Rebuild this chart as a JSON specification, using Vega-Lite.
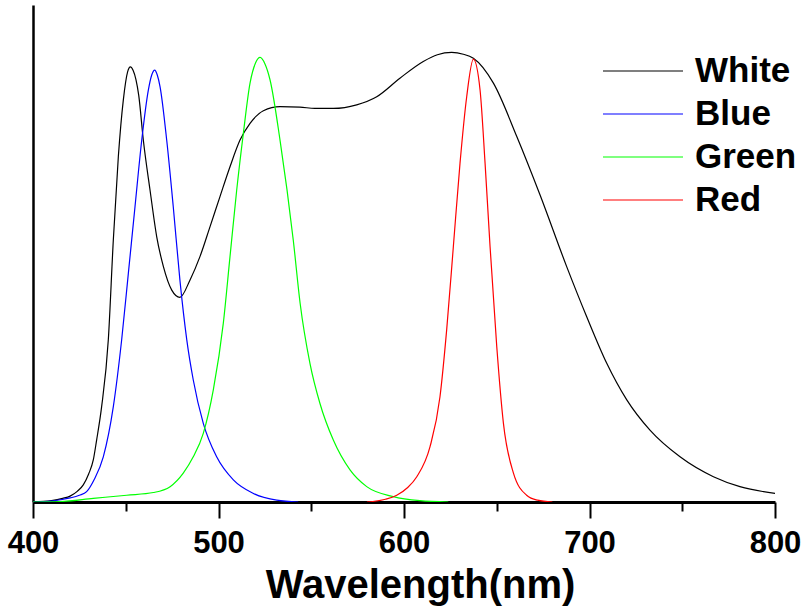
{
  "$schema": "https://vega.github.io/schema/vega-lite/v6.json",
  "width": 742,
  "height": 497,
  "autosize": {"type": "none"},
  "padding": {"left": 33, "top": 5, "right": 32, "bottom": 105},
  "background": "white",
  "config": {"view": {"stroke": null}},
  "datasets": {
    "spectra": [
      {"series": "White", "wl": 400, "y": 0.0},
      {"series": "White", "wl": 410, "y": 0.003},
      {"series": "White", "wl": 416, "y": 0.008},
      {"series": "White", "wl": 420, "y": 0.013},
      {"series": "White", "wl": 424, "y": 0.024},
      {"series": "White", "wl": 427.1, "y": 0.038},
      {"series": "White", "wl": 430, "y": 0.062},
      {"series": "White", "wl": 432.5, "y": 0.093},
      {"series": "White", "wl": 434.3, "y": 0.137},
      {"series": "White", "wl": 437, "y": 0.211},
      {"series": "White", "wl": 440.6, "y": 0.359},
      {"series": "White", "wl": 443.3, "y": 0.58},
      {"series": "White", "wl": 446, "y": 0.764},
      {"series": "White", "wl": 448.7, "y": 0.89},
      {"series": "White", "wl": 451, "y": 0.952},
      {"series": "White", "wl": 452.5, "y": 0.963},
      {"series": "White", "wl": 454, "y": 0.955},
      {"series": "White", "wl": 455.5, "y": 0.935},
      {"series": "White", "wl": 457, "y": 0.9},
      {"series": "White", "wl": 459.5, "y": 0.8},
      {"series": "White", "wl": 463.1, "y": 0.69},
      {"series": "White", "wl": 466.7, "y": 0.587},
      {"series": "White", "wl": 470.3, "y": 0.521},
      {"series": "White", "wl": 474.8, "y": 0.469},
      {"series": "White", "wl": 479.2, "y": 0.453},
      {"series": "White", "wl": 484.6, "y": 0.491},
      {"series": "White", "wl": 490, "y": 0.543},
      {"series": "White", "wl": 495.4, "y": 0.609},
      {"series": "White", "wl": 500.8, "y": 0.676},
      {"series": "White", "wl": 506.2, "y": 0.742},
      {"series": "White", "wl": 511.6, "y": 0.801},
      {"series": "White", "wl": 517, "y": 0.838},
      {"series": "White", "wl": 524.2, "y": 0.866},
      {"series": "White", "wl": 533.2, "y": 0.875},
      {"series": "White", "wl": 543.9, "y": 0.874},
      {"series": "White", "wl": 552, "y": 0.871},
      {"series": "White", "wl": 561.9, "y": 0.871},
      {"series": "White", "wl": 574.5, "y": 0.879},
      {"series": "White", "wl": 585.3, "y": 0.897},
      {"series": "White", "wl": 597.8, "y": 0.938},
      {"series": "White", "wl": 610.4, "y": 0.975},
      {"series": "White", "wl": 618, "y": 0.99},
      {"series": "White", "wl": 625.7, "y": 0.995},
      {"series": "White", "wl": 632, "y": 0.991},
      {"series": "White", "wl": 637.4, "y": 0.982},
      {"series": "White", "wl": 648.2, "y": 0.927},
      {"series": "White", "wl": 660.8, "y": 0.809},
      {"series": "White", "wl": 673.3, "y": 0.68},
      {"series": "White", "wl": 687.7, "y": 0.521},
      {"series": "White", "wl": 698.5, "y": 0.41},
      {"series": "White", "wl": 709.3, "y": 0.307},
      {"series": "White", "wl": 720.1, "y": 0.226},
      {"series": "White", "wl": 732.6, "y": 0.159},
      {"series": "White", "wl": 748.8, "y": 0.1},
      {"series": "White", "wl": 766.8, "y": 0.056},
      {"series": "White", "wl": 781.1, "y": 0.034},
      {"series": "White", "wl": 800, "y": 0.019},

      {"series": "Blue", "wl": 400, "y": 0.0},
      {"series": "Blue", "wl": 410, "y": 0.002},
      {"series": "Blue", "wl": 415, "y": 0.005},
      {"series": "Blue", "wl": 420, "y": 0.009},
      {"series": "Blue", "wl": 425, "y": 0.015},
      {"series": "Blue", "wl": 428.9, "y": 0.023},
      {"series": "Blue", "wl": 433, "y": 0.05},
      {"series": "Blue", "wl": 437.9, "y": 0.1},
      {"series": "Blue", "wl": 443.3, "y": 0.211},
      {"series": "Blue", "wl": 447.8, "y": 0.359},
      {"series": "Blue", "wl": 451.4, "y": 0.506},
      {"series": "Blue", "wl": 455, "y": 0.654},
      {"series": "Blue", "wl": 458.6, "y": 0.8},
      {"series": "Blue", "wl": 462.2, "y": 0.912},
      {"series": "Blue", "wl": 464, "y": 0.945},
      {"series": "Blue", "wl": 465.6, "y": 0.956},
      {"series": "Blue", "wl": 467, "y": 0.945},
      {"series": "Blue", "wl": 468.5, "y": 0.919},
      {"series": "Blue", "wl": 472.1, "y": 0.8},
      {"series": "Blue", "wl": 475.6, "y": 0.654},
      {"series": "Blue", "wl": 479.2, "y": 0.491},
      {"series": "Blue", "wl": 482.9, "y": 0.359},
      {"series": "Blue", "wl": 486.4, "y": 0.27},
      {"series": "Blue", "wl": 491.8, "y": 0.174},
      {"series": "Blue", "wl": 499, "y": 0.1},
      {"series": "Blue", "wl": 508, "y": 0.049},
      {"series": "Blue", "wl": 518.8, "y": 0.019},
      {"series": "Blue", "wl": 531.4, "y": 0.004},
      {"series": "Blue", "wl": 543, "y": 0.0},

      {"series": "Green", "wl": 400, "y": 0.0},
      {"series": "Green", "wl": 414.6, "y": 0.001},
      {"series": "Green", "wl": 432.5, "y": 0.008},
      {"series": "Green", "wl": 450.5, "y": 0.015},
      {"series": "Green", "wl": 464.9, "y": 0.021},
      {"series": "Green", "wl": 473.9, "y": 0.034},
      {"series": "Green", "wl": 481, "y": 0.064},
      {"series": "Green", "wl": 486.4, "y": 0.1},
      {"series": "Green", "wl": 491.8, "y": 0.152},
      {"series": "Green", "wl": 497.2, "y": 0.248},
      {"series": "Green", "wl": 502.6, "y": 0.396},
      {"series": "Green", "wl": 506.2, "y": 0.543},
      {"series": "Green", "wl": 509.8, "y": 0.69},
      {"series": "Green", "wl": 513.4, "y": 0.816},
      {"series": "Green", "wl": 517, "y": 0.927},
      {"series": "Green", "wl": 520, "y": 0.972},
      {"series": "Green", "wl": 522.4, "y": 0.984},
      {"series": "Green", "wl": 525, "y": 0.97},
      {"series": "Green", "wl": 527.8, "y": 0.934},
      {"series": "Green", "wl": 533.2, "y": 0.8},
      {"series": "Green", "wl": 540.3, "y": 0.58},
      {"series": "Green", "wl": 544, "y": 0.44},
      {"series": "Green", "wl": 549.3, "y": 0.307},
      {"series": "Green", "wl": 554.7, "y": 0.218},
      {"series": "Green", "wl": 561.9, "y": 0.137},
      {"series": "Green", "wl": 570.9, "y": 0.071},
      {"series": "Green", "wl": 579.9, "y": 0.034},
      {"series": "Green", "wl": 594.2, "y": 0.012},
      {"series": "Green", "wl": 608.6, "y": 0.003},
      {"series": "Green", "wl": 623.9, "y": 0.0},

      {"series": "Red", "wl": 580, "y": 0.0},
      {"series": "Red", "wl": 590, "y": 0.006},
      {"series": "Red", "wl": 596.1, "y": 0.015},
      {"series": "Red", "wl": 602, "y": 0.032},
      {"series": "Red", "wl": 606.9, "y": 0.056},
      {"series": "Red", "wl": 614, "y": 0.122},
      {"series": "Red", "wl": 619.4, "y": 0.233},
      {"series": "Red", "wl": 623, "y": 0.381},
      {"series": "Red", "wl": 626.6, "y": 0.565},
      {"series": "Red", "wl": 630.2, "y": 0.75},
      {"series": "Red", "wl": 633.8, "y": 0.897},
      {"series": "Red", "wl": 637.4, "y": 0.98},
      {"series": "Red", "wl": 641, "y": 0.912},
      {"series": "Red", "wl": 643.7, "y": 0.75},
      {"series": "Red", "wl": 646.4, "y": 0.565},
      {"series": "Red", "wl": 650, "y": 0.344},
      {"series": "Red", "wl": 653.6, "y": 0.174},
      {"series": "Red", "wl": 659, "y": 0.064},
      {"series": "Red", "wl": 666.1, "y": 0.015},
      {"series": "Red", "wl": 672, "y": 0.004},
      {"series": "Red", "wl": 680, "y": 0.0}
    ]
  },
  "data": {"name": "spectra"},
  "mark": {"type": "line", "strokeWidth": 1.2, "interpolate": "monotone", "clip": true},
  "encoding": {
    "x": {
      "field": "wl",
      "type": "quantitative",
      "scale": {"domain": [400, 800], "nice": false, "zero": false},
      "axis": {
        "values": [400, 450, 500, 550, 600, 650, 700, 750, 800],
        "labelExpr": "datum.value % 100 === 0 ? datum.label : ''",
        "format": "d",
        "grid": false,
        "domainColor": "black",
        "domainWidth": 3,
        "tickColor": "black",
        "tickWidth": 2,
        "tickSize": {"condition": {"test": "datum.value % 100 === 0", "value": 16}, "value": 9},
        "labelFont": "Liberation Sans",
        "labelFontWeight": "bold",
        "labelFontSize": 31,
        "labelColor": "black",
        "labelPadding": 10,
        "labelFlush": false,
        "labelOverlap": false,
        "title": "Wavelength(nm)",
        "titleFont": "Liberation Sans",
        "titleFontWeight": "bold",
        "titleFontSize": 40,
        "titleColor": "black",
        "titleAlign": "center",
        "titleBaseline": "alphabetic",
        "titleX": 387,
        "titleY": 95
      }
    },
    "y": {
      "field": "y",
      "type": "quantitative",
      "scale": {"domain": [0, 1.1], "nice": false},
      "axis": {
        "labels": false,
        "ticks": false,
        "grid": false,
        "title": null,
        "domainColor": "black",
        "domainWidth": 2.5
      }
    },
    "color": {
      "field": "series",
      "type": "nominal",
      "scale": {
        "domain": ["White", "Blue", "Green", "Red"],
        "range": ["#000000", "#0000ff", "#00ff00", "#ff0000"]
      },
      "legend": {
        "title": null,
        "orient": "none",
        "legendX": 569,
        "legendY": 45.5,
        "padding": 0,
        "symbolType": "stroke",
        "symbolSize": 6400,
        "symbolStrokeWidth": 1.2,
        "symbolOffset": 0,
        "clipHeight": 41,
        "rowPadding": 2,
        "labelFont": "Liberation Sans",
        "labelFontWeight": "bold",
        "labelFontSize": 35,
        "labelColor": "black",
        "labelOffset": 11
      }
    }
  }
}
